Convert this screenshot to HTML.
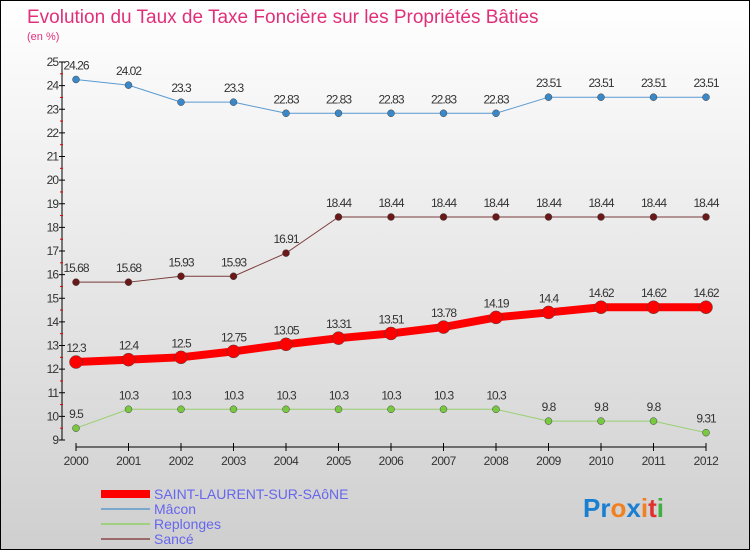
<!DOCTYPE html>
<html><head><meta charset="utf-8">
<style>
html,body{margin:0;padding:0;}
body{width:750px;height:550px;overflow:hidden;font-family:"Liberation Sans",sans-serif;}
#wrap{position:relative;width:748px;height:548px;border:1px solid #000;background:linear-gradient(#ffffff,#cfcfcf);}
svg{position:absolute;left:0;top:0;}
</style></head>
<body>
<div id="wrap">
<svg id="chart" width="750" height="550">
<text x="26" y="22" font-size="19" fill="#e0307a">Evolution du Taux de Taxe Foncière sur les Propriétés Bâties</text>
<text x="26" y="39" font-size="11" fill="#e0307a">(en %)</text>
<g id="axes"></g><g id="series"></g>
<g>
<rect x="100" y="489" width="49" height="8" fill="#ff0000"/>
<text x="153" y="498" font-size="14" fill="#6666ee">SAINT-LAURENT-SUR-SAôNE</text>
<rect x="100" y="507" width="49" height="2" fill="#7aa8cc"/>
<text x="153" y="513" font-size="14" fill="#6666ee">Mâcon</text>
<rect x="100" y="522" width="49" height="2" fill="#a0d080"/>
<text x="153" y="528" font-size="14" fill="#6666ee">Replonges</text>
<rect x="100" y="537" width="49" height="2" fill="#9a6a6a"/>
<text x="153" y="543" font-size="14" fill="#6666ee">Sancé</text>
</g>
<g font-size="26" font-weight="bold">
<text x="582" y="516"><tspan fill="#1a7fd0">Pr</tspan><tspan fill="#f08020">o</tspan><tspan fill="#1a7fd0">x</tspan><tspan fill="#f08020">i</tspan><tspan fill="#e03030">t</tspan><tspan fill="#40b040">i</tspan></text>
</g>
</svg>
</div>
<script>
const years=[2000,2001,2002,2003,2004,2005,2006,2007,2008,2009,2010,2011,2012];
const yTicks=[9,10,11,12,13,14,15,16,17,18,19,20,21,22,23,24,25];
const saintLaurent=[12.3,12.4,12.5,12.75,13.05,13.31,13.51,13.78,14.19,14.4,14.62,14.62,14.62];
const macon=[24.26,24.02,23.3,23.3,22.83,22.83,22.83,22.83,22.83,23.51,23.51,23.51,23.51];
const replonges=[9.5,10.3,10.3,10.3,10.3,10.3,10.3,10.3,10.3,9.8,9.8,9.8,9.31];
const sance=[15.68,15.68,15.93,15.93,16.91,18.44,18.44,18.44,18.44,18.44,18.44,18.44,18.44];
const NS="http://www.w3.org/2000/svg";
function X(i){return 75+i*52.5;}
function Y(v){return 439-(v-9)*(378/16);}
function mk(tag,attrs,parent){const e=document.createElementNS(NS,tag);for(const k in attrs)e.setAttribute(k,attrs[k]);parent.appendChild(e);return e;}
const axes=document.getElementById('axes');
const ya=mk('line',{x1:61,y1:Y(25),x2:61,y2:Y(9),stroke:'#000','stroke-width':1},axes);


yTicks.forEach(t=>{
 mk('line',{x1:58,y1:Y(t),x2:64,y2:Y(t),stroke:'#000'},axes);
 if(t<25) mk('line',{x1:59,y1:Y(t+0.5),x2:62,y2:Y(t+0.5),stroke:'#e00000'},axes);
 const tx=mk('text',{x:57,y:Y(t)+4,'font-size':12,'text-anchor':'end',fill:'#333','letter-spacing':'-1'},axes);
 tx.textContent=t;
 
 
});
const xa=mk('line',{x1:X(0),y1:446,x2:X(12),y2:446,stroke:'#000'},axes);


years.forEach((y,i)=>{
 mk('line',{x1:X(i),y1:442,x2:X(i),y2:450,stroke:'#000'},axes);
 const tx=mk('text',{x:X(i),y:464,'font-size':12,'text-anchor':'middle',fill:'#333','letter-spacing':'-0.5'},axes);
 tx.textContent=y;
 
 
});
const sg=document.getElementById('series');
function draw(vals,name,color,dot,width,r){
 const g=mk('g',{},sg);
 
 
 const pts=vals.map((v,i)=>X(i)+','+Y(v)).join(' ');
 const pl=mk('polyline',{points:pts,fill:'none',stroke:color,'stroke-width':width,'stroke-linejoin':'round'},g);
 
 
 vals.forEach((v,i)=>{
  const c=mk('circle',{cx:X(i),cy:Y(v),r:r,fill:dot,stroke:'#444','stroke-width':0.5},g);
  
  
  const t=mk('text',{x:X(i),y:Y(v)-10,'font-size':12,'text-anchor':'middle',fill:'#333','letter-spacing':'-1'},g);
  t.textContent=v;
  
  
 });
}
draw(macon,'macon','#5a9ad0','#3a88c8',1,3.5);
draw(sance,'sance','#7a3a3a','#6a1818',1,3.5);
draw(replonges,'replonges','#98d070','#78c840',1,3.5);
draw(saintLaurent,'saint-laurent','#ff0000','#ff0000',8,6.5);
</script>
</body></html>
